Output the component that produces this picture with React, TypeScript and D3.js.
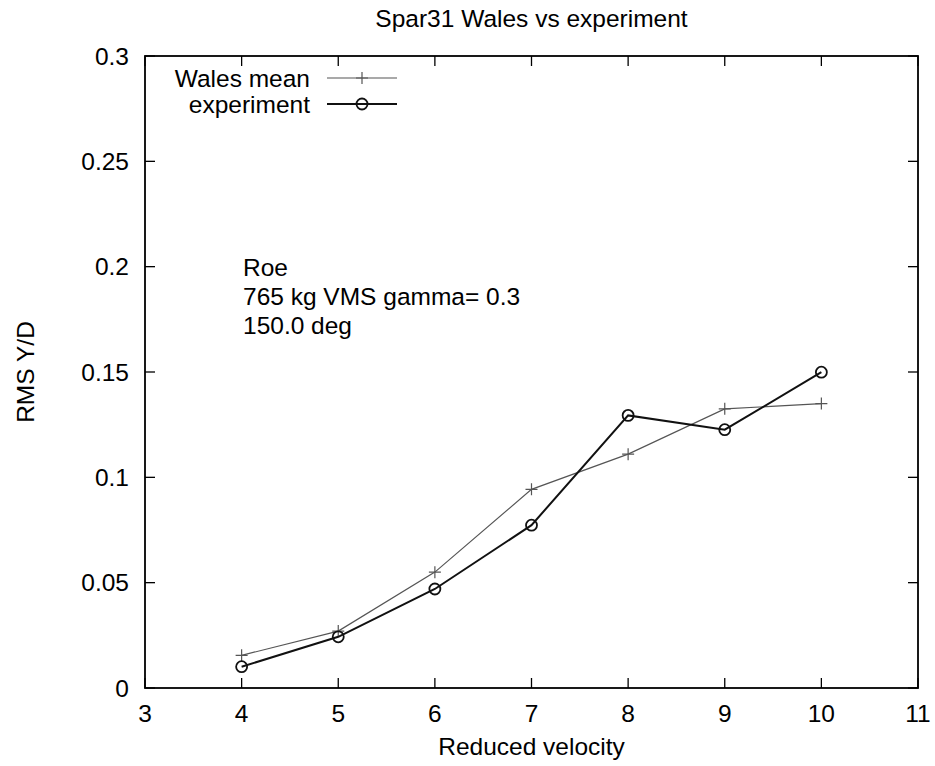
import React from "react";
import * as d3 from "d3";

const velocities = [4, 5, 6, 7, 8, 9, 10];
const walesMean = [0.0155, 0.027, 0.055, 0.0943, 0.111, 0.1325, 0.135];
const experiment = [0.0101, 0.0243, 0.047, 0.0773, 0.1294, 0.1226, 0.1499];
const xTicks = [3, 4, 5, 6, 7, 8, 9, 10, 11];
const yTicks = [0, 0.05, 0.1, 0.15, 0.2, 0.25, 0.3];
const yTickLabels = ["0", "0.05", "0.1", "0.15", "0.2", "0.25", "0.3"];
const annotation = ["Roe", "765 kg VMS gamma= 0.3", "150.0 deg"];
const title = "Spar31 Wales vs experiment";
const xLabel = "Reduced velocity";
const yLabel = "RMS Y/D";
const seriesNames = ["Wales mean", "experiment"];

const W = 935;
const H = 766;
const M = { left: 145, right: 918, top: 56, bottom: 688 };
const FONT = "'Liberation Sans', Arial, sans-serif";
const FS = 24.5;

export default function App() {
  const x = d3.scaleLinear().domain([3, 11]).range([M.left, M.right]);
  const y = d3.scaleLinear().domain([0, 0.3]).range([M.bottom, M.top]);
  const line = d3
    .line<[number, number]>()
    .x((d) => x(d[0]))
    .y((d) => y(d[1]));
  const wPts: [number, number][] = velocities.map((v, i) => [v, walesMean[i]]);
  const ePts: [number, number][] = velocities.map((v, i) => [v, experiment[i]]);
  const tickLen = 10;
  const plus = (cx: number, cy: number, k: string) => (
    <path
      key={k}
      d={`M${cx - 6},${cy}H${cx + 6}M${cx},${cy - 6}V${cy + 6}`}
      stroke="#555"
      strokeWidth={1.2}
      fill="none"
    />
  );
  const circ = (cx: number, cy: number, k: string) => (
    <circle key={k} cx={cx} cy={cy} r={5.5} stroke="#111" strokeWidth={1.8} fill="none" />
  );

  return (
    <svg
      width={W}
      height={H}
      style={{ position: "absolute", left: 0, top: 0, background: "#fff" }}
      fontFamily={FONT}
      fontSize={FS}
    >
      <rect x={0} y={0} width={W} height={H} fill="#fff" />
      {xTicks.map((t) => (
        <g key={"xt" + t}>
          <line x1={x(t)} x2={x(t)} y1={M.bottom} y2={M.bottom - tickLen} stroke="#000" strokeWidth={1.3} />
          <line x1={x(t)} x2={x(t)} y1={M.top} y2={M.top + tickLen} stroke="#000" strokeWidth={1.3} />
          <text x={x(t)} y={722} textAnchor="middle" fill="#000">
            {t}
          </text>
        </g>
      ))}
      {yTicks.map((t, i) => (
        <g key={"yt" + t}>
          <line x1={M.left} x2={M.left + tickLen} y1={y(t)} y2={y(t)} stroke="#000" strokeWidth={1.3} />
          <line x1={M.right} x2={M.right - tickLen} y1={y(t)} y2={y(t)} stroke="#000" strokeWidth={1.3} />
          <text x={129} y={y(t)} dy="0.36em" textAnchor="end" fill="#000">
            {yTickLabels[i]}
          </text>
        </g>
      ))}
      <rect
        x={M.left}
        y={M.top}
        width={M.right - M.left}
        height={M.bottom - M.top}
        fill="none"
        stroke="#000"
        strokeWidth={1.8}
      />
      <path d={line(wPts) || ""} fill="none" stroke="#555" strokeWidth={1.2} />
      {wPts.map((p, i) => plus(x(p[0]), y(p[1]), "wp" + i))}
      <path d={line(ePts) || ""} fill="none" stroke="#111" strokeWidth={2} />
      {ePts.map((p, i) => circ(x(p[0]), y(p[1]), "ep" + i))}
      <text x={310} y={78} dy="0.36em" textAnchor="end">
        {seriesNames[0]}
      </text>
      <line x1={327} x2={397} y1={78} y2={78} stroke="#555" strokeWidth={1.2} />
      {plus(362, 78, "lp")}
      <text x={310} y={104} dy="0.36em" textAnchor="end">
        {seriesNames[1]}
      </text>
      <line x1={327} x2={397} y1={104} y2={104} stroke="#111" strokeWidth={2} />
      {circ(362, 104, "lc")}
      {annotation.map((s, i) => (
        <text key={"an" + i} x={243} y={276 + i * 29}>
          {s}
        </text>
      ))}
      <text x={(M.left + M.right) / 2} y={27} textAnchor="middle">
        {title}
      </text>
      <text x={(M.left + M.right) / 2} y={755} textAnchor="middle">
        {xLabel}
      </text>
      <text transform={`translate(34,${(M.top + M.bottom) / 2}) rotate(-90)`} textAnchor="middle">
        {yLabel}
      </text>
    </svg>
  );
}
